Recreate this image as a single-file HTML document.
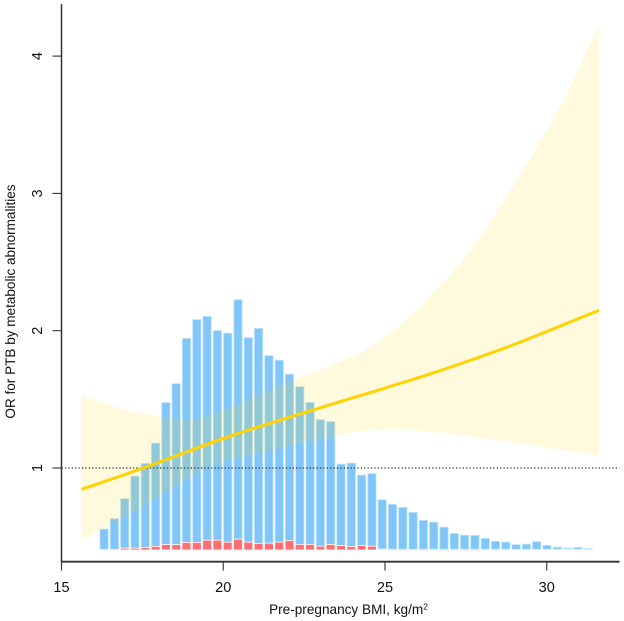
<!DOCTYPE html>
<html lang="en">
<head>
<meta charset="utf-8">
<title>OR for PTB by pre-pregnancy BMI</title>
<style>
html,body{margin:0;padding:0;background:#fff;}
svg{display:block;font-family:"Liberation Sans",Arial,sans-serif;}
</style>
</head>
<body>
<svg id="chart" width="624" height="621" viewBox="0 0 624 621" xmlns="http://www.w3.org/2000/svg">
  <g id="bars"></g>
  <path id="band" fill="#FFD700" fill-opacity="0.13" stroke="none"></path>
  <line id="refline" stroke="#333" stroke-width="1.2" stroke-dasharray="1.3 2.1"></line>
  <path id="orline" fill="none" stroke="#FFD200" stroke-width="3" stroke-linecap="butt" stroke-linejoin="round"></path>
  <g id="axes"></g>
  <text x="348.5" y="614" font-size="13.6" fill="#111" text-anchor="middle">Pre-pregnancy BMI, kg/m<tspan dy="-4.5" font-size="8.5">2</tspan></text>
  <text transform="translate(15 301.5) rotate(-90)" font-size="13.55" fill="#111" text-anchor="middle">OR for PTB by metabolic abnormalities</text>
</svg>
<script>
// Chart data
const xTicks = [15, 20, 25, 30];
const yTicks = [1, 2, 3, 4];
const firstBinBmi = 16.17;
const binWidth = 0.3184;
const totalCounts = [85,127,207,297,348,429,591,667,848,923,936,879,869,1003,851,888,779,761,705,655,592,523,515,345,349,301,307,203,184,172,152,120,113,93,68,61,60,48,36,33,23,25,35,20,13,9,12,7];
const eventCounts = [0,0,9,9,12,16,24,23,32,32,41,41,33,45,33,28,29,33,40,24,24,17,24,19,16,20,17,5,3,3,3,2,0,2,0,2,1,0,0,0,0,0,0,0,0,0,0,0];
const curveBmi = [15.62,17.53,20.31,23.61,24.64,25.67,26.70,27.73,28.76,29.79,30.82,31.62];
const curveOr = [0.845,1.0,1.24,1.483,1.556,1.631,1.709,1.792,1.879,1.974,2.073,2.149];
const upperBmi = [15.62,17.02,18.72,19.59,22.16,23.61,24.63,25.67,26.60,27.53,28.49,29.64,30.62,31.61];
const upperOr = [1.532,1.422,1.357,1.386,1.641,1.772,1.891,2.083,2.302,2.551,2.879,3.316,3.729,4.226];
const lowerBmi = [15.62,17.43,19.07,19.99,23.61,24.64,25.67,27.10,28.18,31.61];
const lowerOr = [0.47,0.709,0.949,1.044,1.24,1.277,1.277,1.248,1.211,1.09];

// Axis functions
const xScale = function (bmi) { return 61.5 + (bmi - 15) * 32.35; };
const yScale = function (or) { return 468 - (or - 1) * 137.3; };
const countScale = function (n) { return n * 0.25; };
const barBase = 550;

const NS = 'http://www.w3.org/2000/svg';
const barsGroup = document.getElementById('bars');
const axesGroup = document.getElementById('axes');

function rect(x, y, w, h, fill, stroke) {
  const r = document.createElementNS(NS, 'rect');
  r.setAttribute('x', x);
  r.setAttribute('y', y);
  r.setAttribute('width', w);
  r.setAttribute('height', h);
  r.setAttribute('fill', fill);
  r.setAttribute('stroke', stroke);
  r.setAttribute('stroke-width', '0.8');
  barsGroup.appendChild(r);
  return r;
}

totalCounts.forEach(function (n, i) {
  const x0 = xScale(firstBinBmi + i * binWidth);
  const x1 = xScale(firstBinBmi + (i + 1) * binWidth);
  const h = countScale(n);
  const blue = rect(x0 + 0.6, barBase - h + 0.4, x1 - x0 - 2, Math.max(h - 1.2, 0.4), '#80C6F8', '#BFE3FC');
  
  
});

eventCounts.forEach(function (n, i) {
  if (n <= 0) { return; }
  const x0 = xScale(firstBinBmi + i * binWidth);
  const x1 = xScale(firstBinBmi + (i + 1) * binWidth);
  const h = countScale(n);
  const red = rect(x0 + 0.3, barBase - h + 0.4, x1 - x0 - 1.4, Math.max(h - 0.4, 0.3), '#FF6E72', '#FFFFFF');
  
  
  if (n < 4) { red.setAttribute('fill-opacity', '0.45'); red.setAttribute('stroke', '#FFE3E3'); }
});

// Smooth path helper (Catmull-Rom through the read-off points)
function smoothPath(xs, ys) {
  const p = xs.map(function (b, i) { return [xScale(b), yScale(ys[i])]; });
  let d = 'M' + p[0][0].toFixed(2) + ' ' + p[0][1].toFixed(2);
  for (let i = 0; i < p.length - 1; i++) {
    const a = p[Math.max(i - 1, 0)], b = p[i], c = p[i + 1], e = p[Math.min(i + 2, p.length - 1)];
    const c1x = b[0] + (c[0] - a[0]) / 6, c1y = b[1] + (c[1] - a[1]) / 6;
    const c2x = c[0] - (e[0] - b[0]) / 6, c2y = c[1] - (e[1] - b[1]) / 6;
    d += ' C' + c1x.toFixed(2) + ' ' + c1y.toFixed(2) + ' ' + c2x.toFixed(2) + ' ' + c2y.toFixed(2) + ' ' + c[0].toFixed(2) + ' ' + c[1].toFixed(2);
  }
  return d;
}

const lowerRevBmi = lowerBmi.slice().reverse();
const lowerRevOr = lowerOr.slice().reverse();
document.getElementById('band').setAttribute('d',
  smoothPath(upperBmi, upperOr) + ' L' + smoothPath(lowerRevBmi, lowerRevOr).slice(1) + ' Z');
document.getElementById('orline').setAttribute('d', smoothPath(curveBmi, curveOr));

const ref = document.getElementById('refline');
ref.setAttribute('x1', xScale(15));
ref.setAttribute('x2', 619.5);
ref.setAttribute('y1', yScale(1));
ref.setAttribute('y2', yScale(1));

function line(x1, y1, x2, y2, w) {
  const l = document.createElementNS(NS, 'line');
  l.setAttribute('x1', x1);
  l.setAttribute('y1', y1);
  l.setAttribute('x2', x2);
  l.setAttribute('y2', y2);
  l.setAttribute('stroke', '#333');
  l.setAttribute('stroke-width', w);
  axesGroup.appendChild(l);
  return l;
}
function label(x, y, txt, rot) {
  const t = document.createElementNS(NS, 'text');
  t.setAttribute('x', x);
  t.setAttribute('y', y);
  t.setAttribute('font-size', '14.5');
  t.setAttribute('fill', '#111');
  t.setAttribute('text-anchor', 'middle');
  if (rot) { t.setAttribute('transform', 'rotate(-90 ' + x + ' ' + y + ')'); }
  t.textContent = txt;
  axesGroup.appendChild(t);
  return t;
}

const xAxisLine = line(xScale(15) - 0.6, 561.7, 619.5, 561.7, 1.9);


const yAxisLine = line(xScale(15), yScale(4) - 52, xScale(15), 561.7, 1.5);



xTicks.forEach(function (v) {
  const tick = line(xScale(v), 561.7, xScale(v), 570.5, 1.1);
  
  
  const lab = label(xScale(v), 592, String(v), false);
  
  
});
yTicks.forEach(function (v) {
  const tick = line(52.5, yScale(v), xScale(15), yScale(v), 1.1);
  
  
  const lab = label(42, yScale(v), String(v), true);
  
  
});
</script>
</body>
</html>
